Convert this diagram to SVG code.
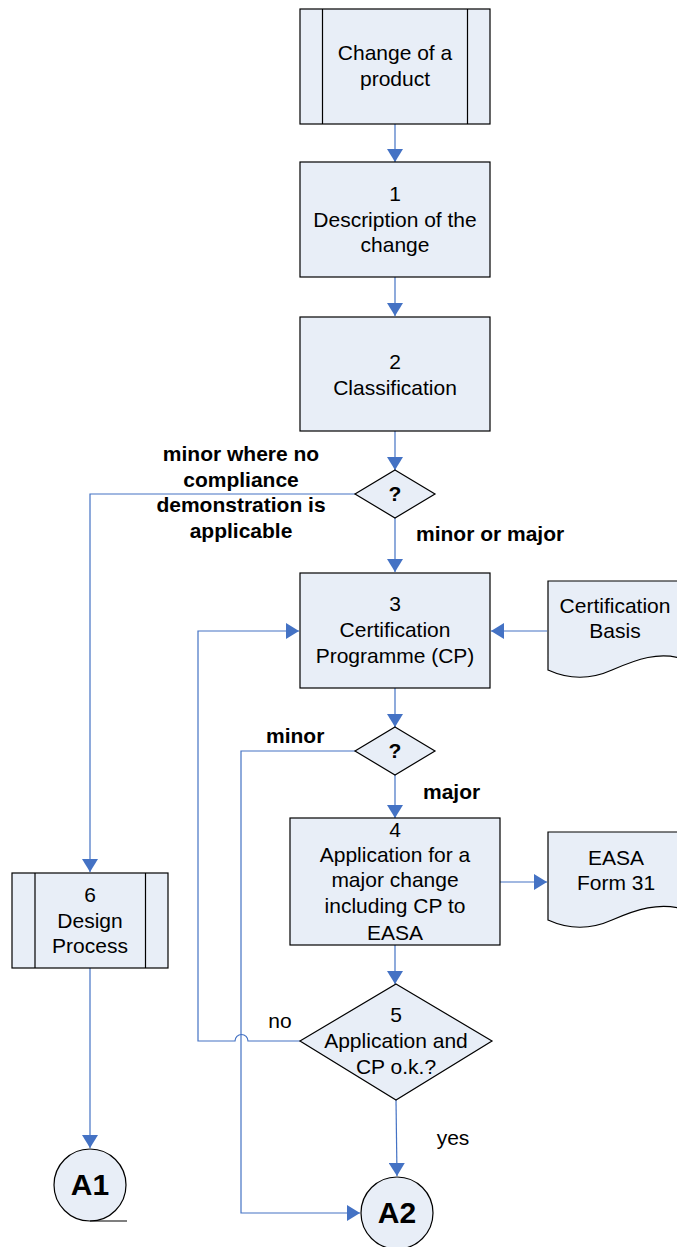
<svg xmlns="http://www.w3.org/2000/svg" width="677" height="1247" viewBox="0 0 677 1247">
<style>
.s{fill:#E8EEF7;stroke:#000;stroke-width:1.2}
.t{font-family:"Liberation Sans",Arial,sans-serif;font-size:21px;fill:#000;text-anchor:middle}
.b{font-family:"Liberation Sans",Arial,sans-serif;font-size:21px;font-weight:bold;fill:#000}
.c{fill:none;stroke:#4472C4;stroke-width:1.2}
</style>
<defs>
<marker id="ah" markerWidth="15" markerHeight="16" refX="13" refY="8" orient="auto" markerUnits="userSpaceOnUse">
<path d="M0,0 L13,8 L0,16 Z" fill="#4472C4"/>
</marker>
</defs>
<rect width="677" height="1247" fill="#fff"/>
<g id="connectors">
<path class="c" d="M395,124 V162" marker-end="url(#ah)"/>
<path class="c" d="M395,277 V316" marker-end="url(#ah)"/>
<path class="c" d="M395,431 V470" marker-end="url(#ah)"/>
<path class="c" d="M395,518 V572" marker-end="url(#ah)"/>
<path class="c" d="M355,494 H90 V872" marker-end="url(#ah)"/>
<path class="c" d="M547,631 H491" marker-end="url(#ah)"/>
<path class="c" d="M395,688 V727" marker-end="url(#ah)"/>
<path class="c" d="M395,775 V818" marker-end="url(#ah)"/>
<path class="c" d="M355,751 H241 V1213 H360" marker-end="url(#ah)"/>
<path class="c" d="M500,882 H547" marker-end="url(#ah)"/>
<path class="c" d="M395,945 V984" marker-end="url(#ah)"/>
<path class="c" d="M300,1041 H248 A6.5,6.5 0 0 0 235,1041 H198 V631 H299" marker-end="url(#ah)"/>
<path class="c" d="M396,1100 L397,1176" marker-end="url(#ah)"/>
<path class="c" d="M90,968 V1148" marker-end="url(#ah)"/>
</g>
<g id="labels">
<text class="b" text-anchor="middle"><tspan x="241" y="461">minor where no</tspan><tspan x="241" y="487">compliance</tspan><tspan x="241" y="512">demonstration is</tspan><tspan x="241" y="538">applicable</tspan></text>
<text class="b" x="416" y="541">minor or major</text>
<text class="b" x="266" y="743">minor</text>
<text class="b" x="423" y="799">major</text>
<text class="t" x="280" y="1028">no</text>
<text class="t" x="453" y="1145">yes</text>
</g>
<g id="start">
<rect class="s" x="300" y="9" width="190" height="115"/>
<path d="M322.5,9 V124 M467.5,9 V124" stroke="#000" stroke-width="1.2"/>
<text class="t"><tspan x="395" y="60">Change of a</tspan><tspan x="395" y="86">product</tspan></text>
</g>
<g id="n1">
<rect class="s" x="300" y="162" width="190" height="115"/>
<text class="t"><tspan x="395" y="201">1</tspan><tspan x="395" y="227">Description of the</tspan><tspan x="395" y="252">change</tspan></text>
</g>
<g id="n2">
<rect class="s" x="300" y="317" width="190" height="114"/>
<text class="t"><tspan x="395" y="369">2</tspan><tspan x="395" y="395">Classification</tspan></text>
</g>
<g id="d1">
<polygon class="s" points="395,470 435,494 395,518 355,494"/>
<text class="b" text-anchor="middle" x="395" y="501">?</text>
</g>
<g id="n3">
<rect class="s" x="300" y="573" width="190" height="115"/>
<text class="t"><tspan x="395" y="611">3</tspan><tspan x="395" y="637">Certification</tspan><tspan x="395" y="663">Programme (CP)</tspan></text>
</g>
<g id="certbasis">
<path class="s" d="M548,581 H686 V660 C660,650 635,660 612,670 C592,679 570,680 548,670 Z"/>
<text class="t"><tspan x="615" y="613">Certification</tspan><tspan x="615" y="638">Basis</tspan></text>
</g>
<g id="d2">
<polygon class="s" points="395,727 435,751 395,775 355,751"/>
<text class="b" text-anchor="middle" x="395" y="758">?</text>
</g>
<g id="n4">
<rect class="s" x="290" y="818" width="210" height="127"/>
<text class="t"><tspan x="395" y="837">4</tspan><tspan x="395" y="862">Application for a</tspan><tspan x="395" y="887">major change</tspan><tspan x="395" y="913">including CP to</tspan><tspan x="395" y="940">EASA</tspan></text>
</g>
<g id="easaform">
<path class="s" d="M548,832 H686 V910 C660,901 635,910 612,920 C592,929 570,930 548,920 Z"/>
<text class="t"><tspan x="616" y="865">EASA</tspan><tspan x="616" y="890">Form 31</tspan></text>
</g>
<g id="d5">
<polygon class="s" points="396,984 492,1041 396,1100 300,1041"/>
<text class="t"><tspan x="396" y="1022">5</tspan><tspan x="396" y="1048">Application and</tspan><tspan x="396" y="1074">CP o.k.?</tspan></text>
</g>
<g id="n6">
<rect class="s" x="12" y="873" width="156" height="95"/>
<path d="M35,873 V968 M145.5,873 V968" stroke="#000" stroke-width="1.2"/>
<text class="t"><tspan x="90" y="902">6</tspan><tspan x="90" y="928">Design</tspan><tspan x="90" y="953">Process</tspan></text>
</g>
<g id="a1">
<circle class="s" cx="90" cy="1185" r="36"/>
<path d="M90,1221 H127" stroke="#000" stroke-width="1.2"/>
<text class="b" text-anchor="middle" x="90" y="1195" font-size="30" style="font-size:30px">A1</text>
</g>
<g id="a2">
<circle class="s" cx="397" cy="1213" r="36"/>
<text class="b" text-anchor="middle" x="397" y="1223" style="font-size:30px">A2</text>
</g>
</svg>
